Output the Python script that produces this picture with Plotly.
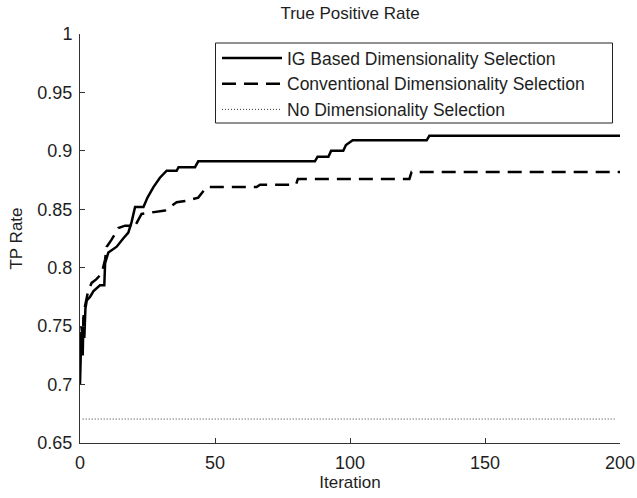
import plotly.graph_objects as go

# IG Based Dimensionality Selection
ig_x = [0, 0.5, 1, 1.3, 1.6, 2, 2.5, 3.7, 5, 7.4, 9, 9.3, 10.5, 13.6, 16, 17.9, 19.1, 19.8,
        20.4, 23.5, 25, 27.2, 29.6, 32.1, 35.8, 36.5, 42.6, 43.8, 87, 88, 92, 93, 97.5, 98.5,
        101, 128.4, 129.4, 200]
ig_y = [0.700, 0.745, 0.725, 0.758, 0.740, 0.765, 0.772, 0.775, 0.780, 0.785, 0.785, 0.804,
        0.813, 0.818, 0.825, 0.830, 0.839, 0.847, 0.852, 0.852, 0.860, 0.869, 0.877, 0.883,
        0.883, 0.886, 0.886, 0.891, 0.891, 0.895, 0.895, 0.900, 0.900, 0.905, 0.909, 0.909,
        0.913, 0.913]

# Conventional Dimensionality Selection
cv_x = [0, 0.5, 1, 1.4, 1.85, 3, 4.3, 6, 8, 9.3, 9.9, 11.7, 14.2, 16.7, 19, 20, 21.6, 22.8,
        31.5, 33.3, 35.8, 38.9, 43.8, 46.9, 65.4, 66.7, 80, 80.7, 122, 122.8, 200]
cv_y = [0.730, 0.750, 0.740, 0.760, 0.767, 0.780, 0.787, 0.790, 0.795, 0.807, 0.818, 0.824,
        0.834, 0.836, 0.836, 0.834, 0.841, 0.846, 0.849, 0.852, 0.856, 0.857, 0.860, 0.869,
        0.869, 0.871, 0.871, 0.876, 0.876, 0.882, 0.882]

# No Dimensionality Selection
nd_x = [1, 198]
nd_y = [0.6705, 0.6705]

x_ticks = [0, 50, 100, 150, 200]
y_ticks = [0.65, 0.7, 0.75, 0.8, 0.85, 0.9, 0.95, 1]
y_tick_labels = ["0.65", "0.7", "0.75", "0.8", "0.85", "0.9", "0.95", "1"]

FONT = "Liberation Sans, Arial, sans-serif"
TXT = "#1e1e1e"
W, H = 637, 498
ML, MR, MT, MB = 80, 17, 34, 55
PW, PH = W - ML - MR, H - MT - MB


def px_x(p):
    return (p - ML) / PW


def px_y(p):
    return 1 - (p - MT) / PH


fig = go.Figure()
fig.add_trace(go.Scatter(x=ig_x, y=ig_y, mode="lines", name="IG Based Dimensionality Selection",
                         line=dict(color="black", width=2.5)))
fig.add_trace(go.Scatter(x=cv_x, y=cv_y, mode="lines", name="Conventional Dimensionality Selection",
                         line=dict(color="black", width=2.5, dash="14px,8px")))
fig.add_trace(go.Scatter(x=nd_x, y=nd_y, mode="lines", name="No Dimensionality Selection",
                         line=dict(color="#333333", width=1, dash="1px,2px")))

# legend frame
fig.add_shape(type="rect", xref="paper", yref="paper",
              x0=px_x(215.5), x1=px_x(612.5), y0=px_y(123), y1=px_y(43),
              line=dict(color="#222222", width=1), fillcolor="white", layer="below")

fig.update_layout(
    width=W, height=H,
    margin=dict(l=ML, r=MR, t=MT, b=MB),
    paper_bgcolor="white", plot_bgcolor="white",
    font=dict(family=FONT, size=18, color=TXT),
    title=dict(text="True Positive Rate", x=0.5, xref="paper", xanchor="center",
               y=1 - 13 / H, yref="container", yanchor="middle", font=dict(size=17, color=TXT)),
    showlegend=True,
    legend=dict(x=px_x(217), y=px_y(40), xanchor="left", yanchor="top",
                bgcolor="rgba(0,0,0,0)", borderwidth=0, itemwidth=60,
                font=dict(size=17.5, color=TXT), tracegroupgap=0),
    xaxis=dict(range=[0, 200], tickvals=x_ticks, ticks="inside", ticklen=5,
               tickcolor="#333333", showline=True, linecolor="#333333", linewidth=1,
               showgrid=False, zeroline=False, mirror=False, automargin=False,
               tickfont=dict(size=18), ticklabelstandoff=3,
               title=dict(text="Iteration", standoff=4, font=dict(size=17))),
    yaxis=dict(range=[0.65, 1], tickvals=y_ticks, ticktext=y_tick_labels, ticks="inside",
               ticklen=5, tickcolor="#333333", showline=True, linecolor="#333333",
               linewidth=1, showgrid=False, zeroline=False, mirror=False, automargin=False,
               tickfont=dict(size=18), ticklabelstandoff=3,
               title=dict(text="TP Rate", standoff=10, font=dict(size=17))),
)

fig.write_html("out.html", config={"displayModeBar": False},
               post_script="document.body.style.margin='0';")
